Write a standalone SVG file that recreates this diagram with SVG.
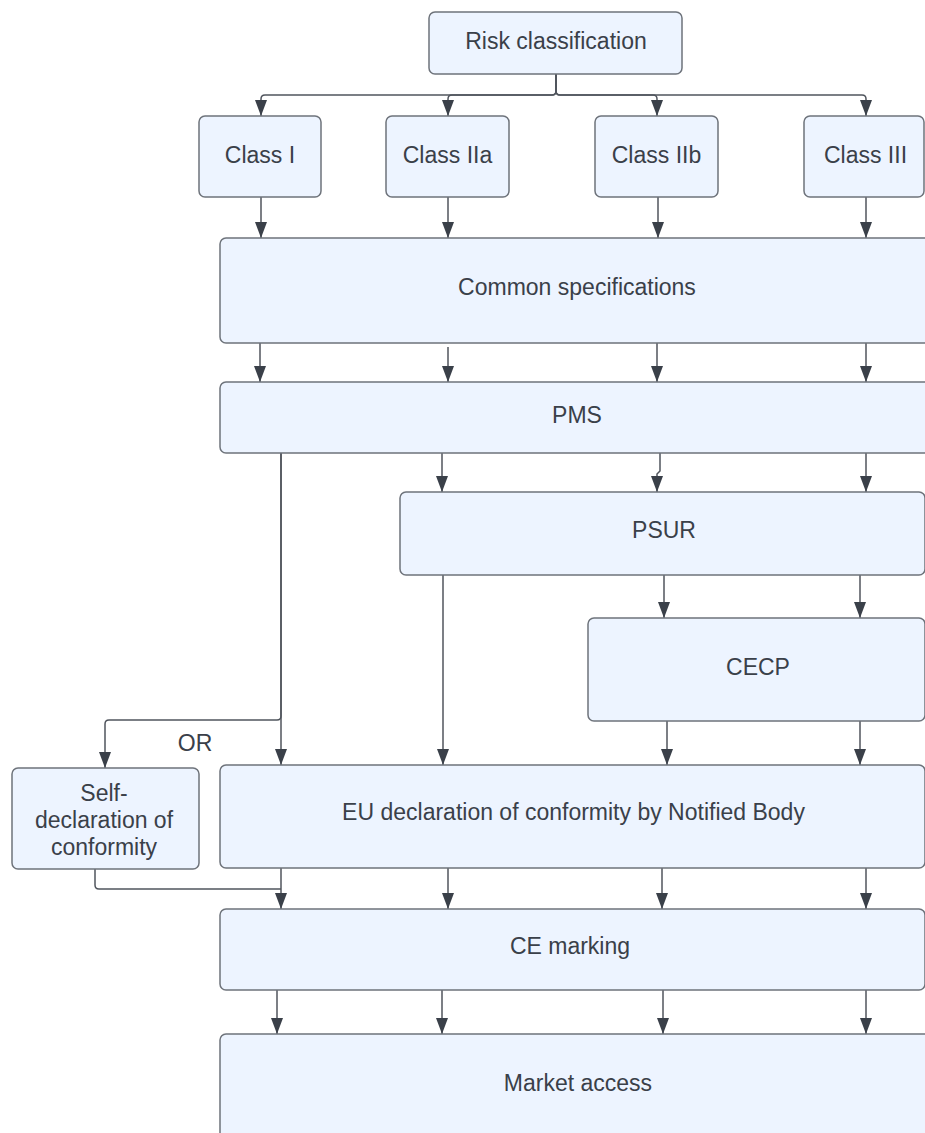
<svg xmlns="http://www.w3.org/2000/svg" width="925" height="1133" viewBox="0 0 925 1133">
<style>
.box{fill:#edf4ff;stroke:#6e737b;stroke-width:1.5}
.lbl{font-family:"Liberation Sans",Arial,sans-serif;font-size:23px;fill:#3a4049;text-anchor:middle}
.c{fill:none;stroke:#50555d;stroke-width:1.5}
.a{marker-end:url(#arr)}
</style>
<defs>
<marker id="arr" markerUnits="userSpaceOnUse" markerWidth="16" markerHeight="12" refX="16" refY="6" orient="auto" viewBox="0 0 16 12">
<path d="M0,0 L16,6 L0,12 Z" fill="#3a4049"/>
</marker>
</defs>
<rect width="925" height="1133" fill="#ffffff"/>
<g id="connectors">
<path class="c a" d="M556,74 V91 Q556,95 552,95 H265 Q261,95 261,99 V116"/>
<path class="c a" d="M556,74 V91 Q556,95 552,95 H452 Q448,95 448,99 V116"/>
<path class="c a" d="M556,74 V91 Q556,95 560,95 H653 Q657,95 657,99 V116"/>
<path class="c a" d="M556,74 V91 Q556,95 560,95 H862 Q866,95 866,99 V116"/>
<path class="c a" d="M261,197 V238"/>
<path class="c a" d="M448,197 V238"/>
<path class="c a" d="M658,197 V238"/>
<path class="c a" d="M866,197 V238"/>
<path class="c a" d="M260,343 V382"/>
<path class="c a" d="M448,347 V382"/>
<path class="c a" d="M657,343 V382"/>
<path class="c a" d="M866,343 V382"/>
<path class="c a" d="M442,453 V492"/>
<path class="c a" d="M660,453 V471 L657,474 V492"/>
<path class="c a" d="M866,453 V492"/>
<path class="c a" d="M281,453 V716 Q281,720 277,720 H109 Q105,720 105,724 V768"/>
<path class="c a" d="M281,453 V765"/>
<path class="c a" d="M443,575 V765"/>
<path class="c a" d="M664,575 V618"/>
<path class="c a" d="M860,575 V618"/>
<path class="c a" d="M667,721 V765"/>
<path class="c a" d="M860,721 V765"/>
<path class="c" d="M95,869 V885 Q95,889 99,889 H281"/>
<path class="c a" d="M281,868 V909"/>
<path class="c a" d="M448,868 V909"/>
<path class="c a" d="M662,868 V909"/>
<path class="c a" d="M866,868 V909"/>
<path class="c a" d="M277,990 V1034"/>
<path class="c a" d="M442,990 V1034"/>
<path class="c a" d="M663,990 V1034"/>
<path class="c a" d="M866,990 V1034"/>
<text class="lbl" x="195" y="751">OR</text>
</g>
<g id="risk"><rect class="box" x="429" y="12" width="253" height="62" rx="6"/><text class="lbl" x="556" y="49">Risk classification</text></g>
<g id="class1"><rect class="box" x="199" y="116" width="122" height="81" rx="6"/><text class="lbl" x="260" y="163">Class I</text></g>
<g id="class2a"><rect class="box" x="386" y="116" width="123" height="81" rx="6"/><text class="lbl" x="447.5" y="163">Class IIa</text></g>
<g id="class2b"><rect class="box" x="595" y="116" width="123" height="81" rx="6"/><text class="lbl" x="656.5" y="163">Class IIb</text></g>
<g id="class3"><rect class="box" x="804" y="116" width="120" height="81" rx="6"/><text class="lbl" x="865.5" y="163">Class III</text></g>
<g id="common"><rect class="box" x="220" y="238" width="710" height="105" rx="6"/><text class="lbl" x="577" y="295">Common specifications</text></g>
<g id="pms"><rect class="box" x="220" y="382" width="710" height="71" rx="6"/><text class="lbl" x="577" y="423">PMS</text></g>
<g id="psur"><rect class="box" x="400" y="492" width="525" height="83" rx="6"/><text class="lbl" x="664" y="538">PSUR</text></g>
<g id="cecp"><rect class="box" x="588" y="618" width="337" height="103" rx="6"/><text class="lbl" x="758" y="675">CECP</text></g>
<g id="selfdecl"><rect class="box" x="12" y="768" width="187" height="101" rx="6"/><text class="lbl" x="104" y="801">Self-</text><text class="lbl" x="104" y="828">declaration of</text><text class="lbl" x="104" y="855">conformity</text></g>
<g id="eudecl"><rect class="box" x="220" y="765" width="705" height="103" rx="6"/><text class="lbl" x="573.5" y="820">EU declaration of conformity by Notified Body</text></g>
<g id="ce"><rect class="box" x="220" y="909" width="705" height="81" rx="6"/><text class="lbl" x="570" y="954">CE marking</text></g>
<g id="market"><rect class="box" x="220" y="1034" width="710" height="110" rx="6"/><text class="lbl" x="578" y="1091">Market access</text></g>
</svg>
